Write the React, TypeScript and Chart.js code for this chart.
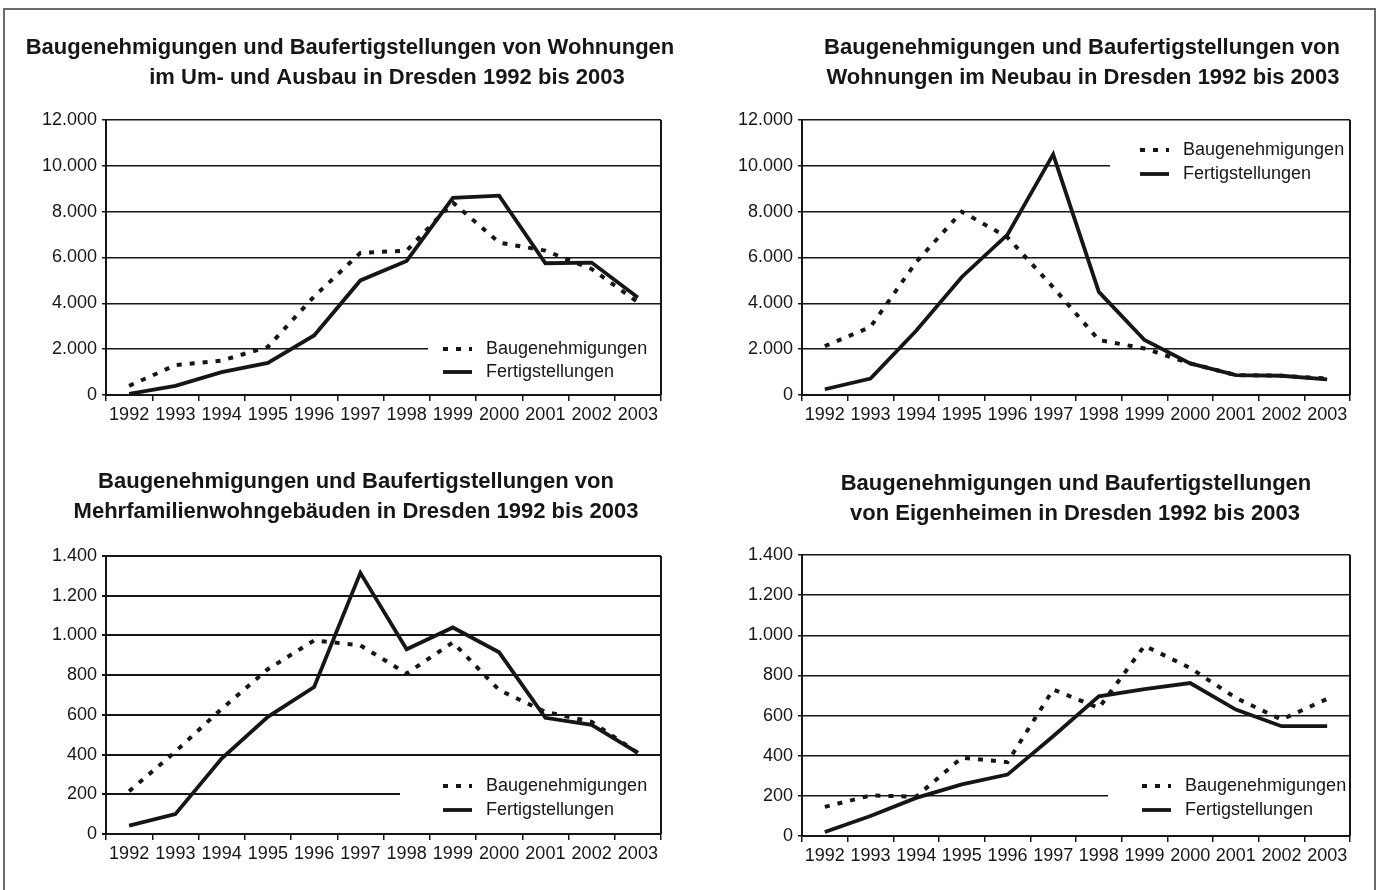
import React, { useEffect, useRef } from "react";
import { Chart, registerables } from "chart.js";

Chart.register(...registerables);

// ---------------- data ----------------
const years = ["1992", "1993", "1994", "1995", "1996", "1997", "1998", "1999", "2000", "2001", "2002", "2003"];
const legendLabels = ["Baugenehmigungen", "Fertigstellungen"];

// Wohnungen im Um- und Ausbau
const umbauGenehmigungen = [400, 1300, 1500, 2100, 4300, 6200, 6300, 8400, 6650, 6300, 5500, 4050];
const umbauFertigstellungen = [50, 400, 1000, 1400, 2600, 5000, 5850, 8600, 8700, 5750, 5780, 4250];

// Wohnungen im Neubau
const neubauGenehmigungen = [2130, 2970, 5800, 8000, 6880, 4700, 2400, 2030, 1380, 870, 840, 720];
const neubauFertigstellungen = [250, 720, 2800, 5150, 7000, 10500, 4500, 2400, 1380, 870, 840, 680];

// Mehrfamilienwohngebäude
const mfhGenehmigungen = [215, 415, 630, 830, 975, 950, 808, 965, 725, 615, 565, 408];
const mfhFertigstellungen = [42, 100, 380, 590, 740, 1315, 930, 1040, 915, 585, 550, 408];

// Eigenheime
const ehGenehmigungen = [145, 202, 196, 390, 368, 730, 638, 948, 837, 688, 580, 683];
const ehFertigstellungen = [20, 100, 190, 257, 306, 497, 696, 732, 762, 630, 547, 547];

const yTicksWohnungen = [0, 2000, 4000, 6000, 8000, 10000, 12000];
const yTicksGebaeude = [0, 200, 400, 600, 800, 1000, 1200, 1400];

const titleUmbau = ["Baugenehmigungen und Baufertigstellungen von Wohnungen", "im Um- und Ausbau in Dresden 1992 bis 2003"];
const titleNeubau = ["Baugenehmigungen und Baufertigstellungen von", "Wohnungen im Neubau in Dresden 1992 bis 2003"];
const titleMFH = ["Baugenehmigungen und Baufertigstellungen von", "Mehrfamilienwohngebäuden in Dresden 1992 bis 2003"];
const titleEH = ["Baugenehmigungen und Baufertigstellungen", "von Eigenheimen in Dresden 1992 bis 2003"];

// ---------------- style ----------------
const INK = "#161616";
const FONT = '"Liberation Sans", Arial, Helvetica, sans-serif';

const fmt = (v: number) => String(v).replace(/\B(?=(\d{3})+(?!\d))/g, ".");

type LegendCfg = {
  anchor: "top" | "bottom";
  boxX: number;
  boxY: number;
  boxH: number;
  rowY: number[];
  sampleX: number;
  textX: number;
};

type PanelCfg = {
  left: number;
  top: number;
  width: number;
  height: number;
  pad: { left: number; right: number; top: number; bottom: number };
  yWidth: number;
  xHeight: number;
  title: string[];
  titleX: number[];
  titleY: number[];
  legend: LegendCfg;
  gen: number[];
  fert: number[];
  yTicks: number[];
  gridWidth: number;
};

const panels: PanelCfg[] = [
  {
    left: 0, top: 0, width: 690, height: 445,
    pad: { left: 10, right: 29, top: 120, bottom: 10 },
    yWidth: 96, xHeight: 40,
    title: titleUmbau, titleX: [350, 387], titleY: [48, 78],
    legend: { anchor: "bottom", boxX: 322, boxY: -66, boxH: 63, rowY: [-46, -23], sampleX: 337, textX: 380 },
    gen: umbauGenehmigungen, fert: umbauFertigstellungen, yTicks: yTicksWohnungen, gridWidth: 1.5,
  },
  {
    left: 690, top: 0, width: 690, height: 445,
    pad: { left: 16, right: 30, top: 120, bottom: 10 },
    yWidth: 96, xHeight: 40,
    title: titleNeubau, titleX: [392, 393], titleY: [48, 78],
    legend: { anchor: "top", boxX: 308, boxY: 8, boxH: 62, rowY: [30, 54], sampleX: 338, textX: 381 },
    gen: neubauGenehmigungen, fert: neubauFertigstellungen, yTicks: yTicksWohnungen, gridWidth: 1.5,
  },
  {
    left: 0, top: 445, width: 690, height: 445,
    pad: { left: 10, right: 29, top: 111, bottom: 16 },
    yWidth: 96, xHeight: 40,
    title: titleMFH, titleX: [356, 356], titleY: [37, 67],
    legend: { anchor: "bottom", boxX: 294, boxY: -66, boxH: 63, rowY: [-48, -24], sampleX: 337, textX: 380 },
    gen: mfhGenehmigungen, fert: mfhFertigstellungen, yTicks: yTicksGebaeude, gridWidth: 2,
  },
  {
    left: 690, top: 445, width: 690, height: 445,
    pad: { left: 16, right: 30, top: 110, bottom: 14 },
    yWidth: 96, xHeight: 40,
    title: titleEH, titleX: [386, 385], titleY: [39, 69],
    legend: { anchor: "bottom", boxX: 306, boxY: -68, boxH: 65, rowY: [-50, -26], sampleX: 340, textX: 383 },
    gen: ehGenehmigungen, fert: ehFertigstellungen, yTicks: yTicksGebaeude, gridWidth: 1.5,
  },
];

function makeDecor(cfg: PanelCfg) {
  return {
    id: "decor",
    beforeDatasetsDraw(chart: any) {
      const { ctx, chartArea: a } = chart;
      const lg = cfg.legend;
      const base = lg.anchor === "top" ? a.top : a.bottom;
      ctx.save();
      // legend background covers grid lines
      ctx.fillStyle = "#ffffff";
      const bx = a.left + lg.boxX;
      ctx.fillRect(bx, base + lg.boxY, a.right - bx - 1, lg.boxH);
      // right frame of the plot area
      ctx.strokeStyle = INK;
      ctx.lineWidth = 2;
      ctx.beginPath();
      ctx.moveTo(a.right, a.top);
      ctx.lineTo(a.right, a.bottom);
      ctx.stroke();
      // legend items
      ctx.font = `18px ${FONT}`;
      ctx.textBaseline = "middle";
      ctx.textAlign = "left";
      ctx.fillStyle = INK;
      lg.rowY.forEach((ry, i) => {
        const y = base + ry;
        const ds = chart.data.datasets[i];
        ctx.beginPath();
        ctx.lineWidth = ds.borderWidth;
        ctx.setLineDash(ds.borderDash || []);
        ctx.moveTo(a.left + lg.sampleX, y);
        ctx.lineTo(a.left + lg.sampleX + 29, y);
        ctx.stroke();
        ctx.setLineDash([]);
        ctx.fillText(ds.label, a.left + lg.textX, y);
      });
      ctx.restore();
    },
    afterDraw(chart: any) {
      const { ctx } = chart;
      ctx.save();
      ctx.font = `bold 22px ${FONT}`;
      ctx.fillStyle = INK;
      ctx.textAlign = "center";
      ctx.textBaseline = "middle";
      cfg.title.forEach((line, i) => ctx.fillText(line, cfg.titleX[i], cfg.titleY[i]));
      ctx.restore();
    },
  };
}

function Panel({ cfg }: { cfg: PanelCfg }) {
  const ref = useRef<HTMLCanvasElement | null>(null);
  useEffect(() => {
    if (!ref.current) return;
    const chart = new Chart(ref.current, {
      type: "line",
      data: {
        labels: years,
        datasets: [
          {
            label: legendLabels[0],
            data: cfg.gen,
            borderColor: INK,
            borderWidth: 4,
            borderDash: [5, 8],
            borderCapStyle: "butt",
            pointRadius: 0,
            tension: 0,
            fill: false,
          },
          {
            label: legendLabels[1],
            data: cfg.fert,
            borderColor: INK,
            borderWidth: 3.8,
            pointRadius: 0,
            tension: 0,
            fill: false,
          },
        ],
      },
      options: {
        animation: false,
        responsive: false,
        devicePixelRatio: 1,
        layout: { padding: cfg.pad },
        plugins: {
          legend: { display: false },
          title: { display: false },
          tooltip: { enabled: false },
        },
        scales: {
          x: {
            offset: true,
            grid: { offset: true, drawOnChartArea: false, drawTicks: true, tickLength: 6, color: INK, lineWidth: 1.5 },
            border: { color: INK, width: 2 },
            ticks: { color: INK, font: { family: FONT, size: 18 }, padding: 3, maxRotation: 0, autoSkip: false },
            afterFit: (s: any) => {
              s.height = cfg.xHeight;
            },
          },
          y: {
            min: 0,
            max: cfg.yTicks[cfg.yTicks.length - 1],
            grid: { color: INK, lineWidth: cfg.gridWidth, tickLength: 4 },
            border: { color: INK, width: 2 },
            ticks: {
              color: INK,
              font: { family: FONT, size: 18 },
              padding: 5,
              callback: (v: any) => fmt(Number(v)),
            },
            afterBuildTicks: (s: any) => {
              s.ticks = cfg.yTicks.map((v) => ({ value: v }));
            },
            afterFit: (s: any) => {
              s.width = cfg.yWidth;
            },
          },
        },
      } as any,
      plugins: [makeDecor(cfg)],
    });
    return () => chart.destroy();
  }, [cfg]);
  return (
    <canvas
      ref={ref}
      width={cfg.width}
      height={cfg.height}
      style={{ position: "absolute", left: cfg.left, top: cfg.top, width: cfg.width, height: cfg.height }}
    />
  );
}

export default function App() {
  return (
    <div style={{ position: "absolute", left: 0, top: 0, width: 1381, height: 890, background: "#fff", overflow: "hidden" }}>
      <div
        style={{
          position: "absolute",
          left: 3,
          top: 8,
          width: 1373,
          height: 900,
          border: "2px solid #6a6a6a",
          boxSizing: "border-box",
        }}
      />
      {panels.map((p, i) => (
        <Panel key={i} cfg={p} />
      ))}
    </div>
  );
}
